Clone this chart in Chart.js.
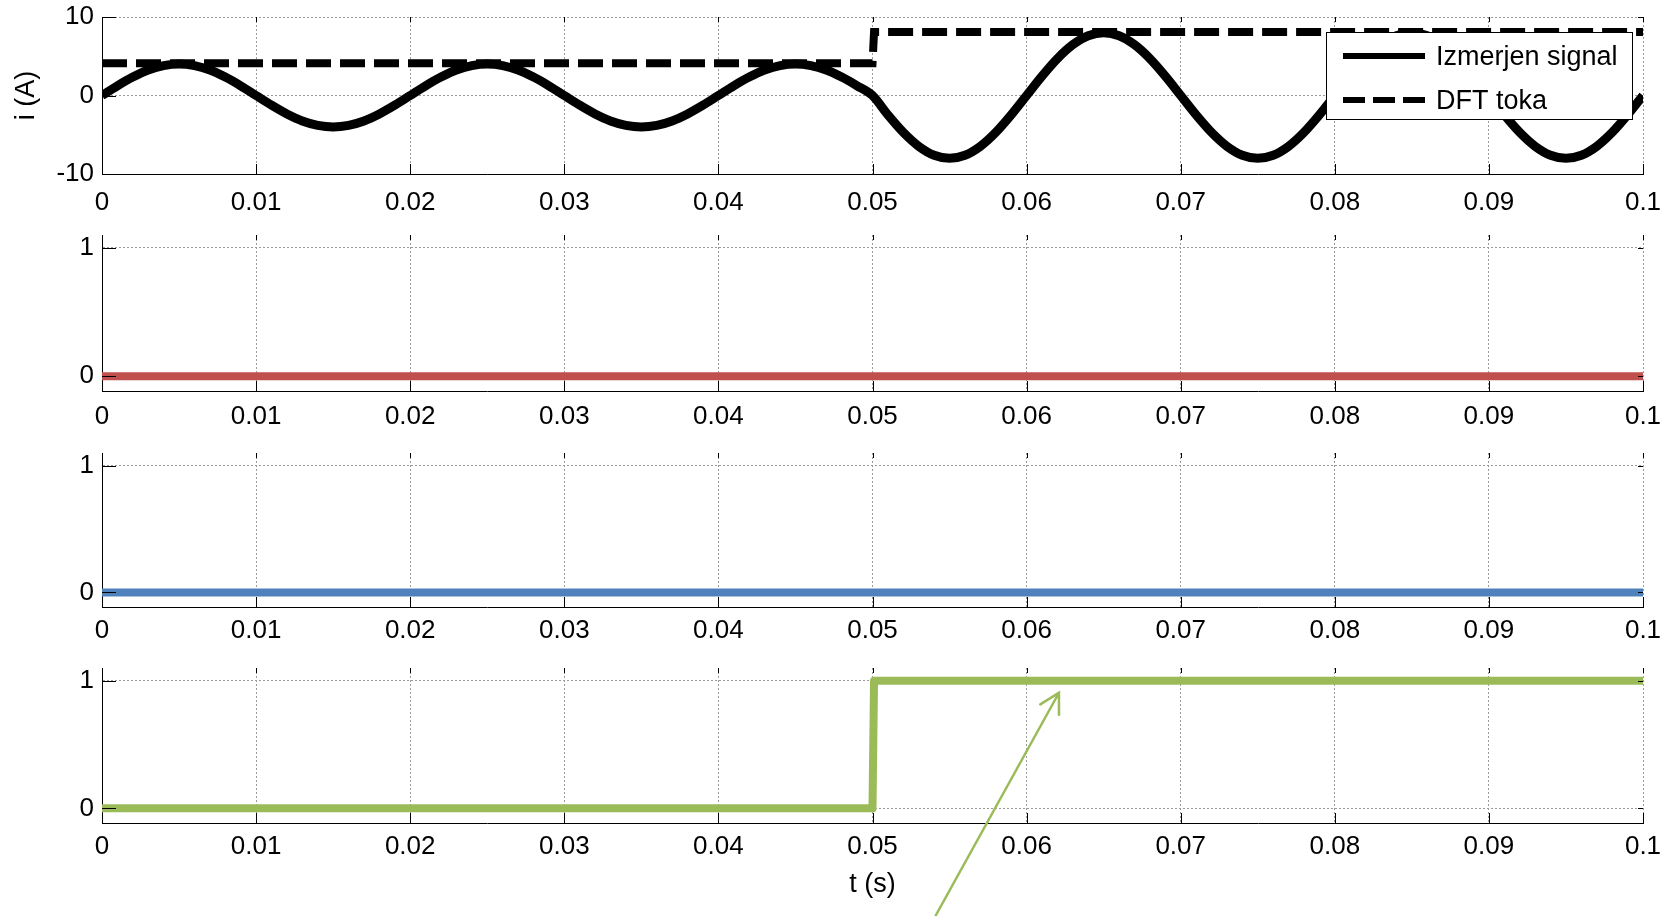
<!DOCTYPE html>
<html>
<head>
<meta charset="utf-8">
<script src="https://cdn.jsdelivr.net/npm/chart.js@4.4.1/dist/chart.umd.min.js"></script>
<style>
  html, body { margin: 0; padding: 0; background: #fff; }
  body { width: 1672px; height: 916px; position: relative; overflow: hidden; }
  canvas { position: absolute; left: 0; }
</style>
</head>
<body>
<canvas id="c1" width="1672" height="225" style="top:0px"></canvas>
<canvas id="c2" width="1672" height="215" style="top:225px"></canvas>
<canvas id="c3" width="1672" height="215" style="top:440px"></canvas>
<canvas id="c4" width="1672" height="261" style="top:655px"></canvas>
<script>
// ---------------- DATA ----------------
const xTicks = [0, 0.01, 0.02, 0.03, 0.04, 0.05, 0.06, 0.07, 0.08, 0.09, 0.1];
const yTicksCurrent = [-10, 0, 10];
const yTicksFlag = [0, 1];

const tSignal = [
  0, 0.001, 0.002, 0.003, 0.004, 0.005, 0.006, 0.007, 0.008, 0.009,
  0.010, 0.011, 0.012, 0.013, 0.014, 0.015, 0.016, 0.017, 0.018, 0.019,
  0.020, 0.021, 0.022, 0.023, 0.024, 0.025, 0.026, 0.027, 0.028, 0.029,
  0.030, 0.031, 0.032, 0.033, 0.034, 0.035, 0.036, 0.037, 0.038, 0.039,
  0.040, 0.041, 0.042, 0.043, 0.044, 0.045, 0.046, 0.047, 0.048, 0.049,
  0.050, 0.051, 0.052, 0.053, 0.054, 0.055, 0.056, 0.057, 0.058, 0.059,
  0.060, 0.061, 0.062, 0.063, 0.064, 0.065, 0.066, 0.067, 0.068, 0.069,
  0.070, 0.071, 0.072, 0.073, 0.074, 0.075, 0.076, 0.077, 0.078, 0.079,
  0.080, 0.081, 0.082, 0.083, 0.084, 0.085, 0.086, 0.087, 0.088, 0.089,
  0.090, 0.091, 0.092, 0.093, 0.094, 0.095, 0.096, 0.097, 0.098, 0.099,
  0.100
];
const measuredSignal = [
  0, 1.24, 2.35, 3.24, 3.8, 4, 3.8, 3.24, 2.35, 1.24,
  0, -1.24, -2.35, -3.24, -3.8, -4, -3.8, -3.24, -2.35, -1.24,
  0, 1.24, 2.35, 3.24, 3.8, 4, 3.8, 3.24, 2.35, 1.24,
  0, -1.24, -2.35, -3.24, -3.8, -4, -3.8, -3.24, -2.35, -1.24,
  0, 1.24, 2.35, 3.24, 3.8, 4, 3.8, 3.24, 2.35, 1.24,
  0, -2.47, -4.7, -6.47, -7.61, -8, -7.61, -6.47, -4.7, -2.47,
  0, 2.47, 4.7, 6.47, 7.61, 8, 7.61, 6.47, 4.7, 2.47,
  0, -2.47, -4.7, -6.47, -7.61, -8, -7.61, -6.47, -4.7, -2.47,
  0, 2.47, 4.7, 6.47, 7.61, 8, 7.61, 6.47, 4.7, 2.47,
  0, -2.47, -4.7, -6.47, -7.61, -8, -7.61, -6.47, -4.7, -2.47,
  0
];

const tDft = [0, 0.05, 0.0501, 0.1];
const dftAmplitude = [4.1, 4.1, 8.1, 8.1];

const tFlags = [0, 0.05, 0.0501, 0.1];
const flagRed = [0, 0, 0, 0];
const flagBlue = [0, 0, 0, 0];
const flagGreen = [0, 0, 1, 1];

const seriesNames = ['Izmerjen signal', 'DFT toka'];
// arrow annotation (data coordinates of bottom panel): tail -> tip
const arrowTail = { x: 0.0541, y: -0.84 };
const arrowTip = { x: 0.0621, y: 0.906 };

// ---------------- HELPERS ----------------
const FONT = "'Liberation Sans', Arial, Helvetica, sans-serif";
const toPts = (xs, ys) => xs.map((x, i) => ({ x: x, y: ys[i] }));
const fmtX = v => { const r = Math.round(v * 100) / 100; return String(r); };

// inward MATLAB-style ticks
const inwardTicks = {
  id: 'inwardTicks',
  afterDatasetsDraw(chart) {
    const { ctx, chartArea: a, scales } = chart;
    ctx.save();
    ctx.strokeStyle = '#000';
    ctx.lineWidth = 1;
    ctx.beginPath();
    scales.x.ticks.forEach(t => {
      const px = Math.round(scales.x.getPixelForValue(t.value)) + 0.5;
      ctx.moveTo(px, a.bottom); ctx.lineTo(px, a.bottom - 10);
      ctx.moveTo(px, a.top); ctx.lineTo(px, a.top + 5);
    });
    scales.y.ticks.forEach(t => {
      const py = Math.round(scales.y.getPixelForValue(t.value)) + 0.5;
      ctx.moveTo(a.left, py); ctx.lineTo(a.left + 14, py);
      ctx.moveTo(a.right, py); ctx.lineTo(a.right - 5, py);
    });
    ctx.stroke();
    ctx.restore();
  }
};

// boxed legend inside the top panel
const boxLegend = {
  id: 'boxLegend',
  afterDraw(chart, args, opts) {
    if (!opts.enabled) return;
    const { ctx, chartArea: a } = chart;
    const w = 306, h = 87;
    const x0 = a.right - 11 - w, y0 = a.top + 15;
    ctx.save();
    ctx.fillStyle = '#fff';
    ctx.fillRect(x0, y0, w, h);
    ctx.strokeStyle = '#000';
    ctx.lineWidth = 1;
    ctx.strokeRect(x0 + 0.5, y0 + 0.5, w, h);
    ctx.font = '27px ' + FONT;
    ctx.fillStyle = '#000';
    ctx.textBaseline = 'middle';
    chart.data.datasets.forEach((ds, i) => {
      const cy = y0 + 24 + i * 44;
      ctx.beginPath();
      ctx.lineWidth = 6;
      ctx.strokeStyle = ds.borderColor;
      ctx.setLineDash(ds.borderDash && ds.borderDash.length ? [22, 8] : []);
      ctx.moveTo(x0 + 17, cy); ctx.lineTo(x0 + 99, cy);
      ctx.stroke();
      ctx.setLineDash([]);
      ctx.fillText(ds.label, x0 + 110, cy + 2);
    });
    ctx.restore();
  }
};

// annotation arrow in the bottom panel
const arrowPlugin = {
  id: 'arrowPlugin',
  afterDraw(chart, args, opts) {
    if (!opts.enabled) return;
    const { ctx, scales } = chart;
    const x1 = scales.x.getPixelForValue(arrowTail.x), y1 = scales.y.getPixelForValue(arrowTail.y);
    const x2 = scales.x.getPixelForValue(arrowTip.x), y2 = scales.y.getPixelForValue(arrowTip.y);
    const ang = Math.atan2(y1 - y2, x1 - x2);
    const L = 22, spread = 29 * Math.PI / 180;
    ctx.save();
    ctx.strokeStyle = '#9BBB59';
    ctx.lineWidth = 2.5;
    ctx.lineCap = 'round';
    ctx.beginPath();
    ctx.moveTo(x1, y1); ctx.lineTo(x2, y2);
    ctx.moveTo(x2 + L * Math.cos(ang - spread), y2 + L * Math.sin(ang - spread));
    ctx.lineTo(x2, y2);
    ctx.lineTo(x2 + L * Math.cos(ang + spread), y2 + L * Math.sin(ang + spread));
    ctx.stroke();
    ctx.restore();
  }
};

function makeChart(id, cfg) {
  const xScale = {
    type: 'linear', min: 0, max: 0.1,
    afterBuildTicks: s => { s.ticks = xTicks.map(v => ({ value: v })); },
    afterFit: s => { s.height = cfg.xHeight; s.paddingLeft = 0; s.paddingRight = 0; s.paddingTop = 0; s.paddingBottom = 0; },
    ticks: { autoSkip: false, maxRotation: 0, padding: cfg.xPad, color: '#000',
             font: { family: FONT, size: 26 }, callback: v => fmtX(v) },
    grid: { color: '#9a9a9a', lineWidth: 1, drawTicks: false },
    border: { display: true, color: '#000', width: 1, dash: [2, 2] },
    title: cfg.xTitle ? { display: true, text: cfg.xTitle, color: '#000',
             font: { family: FONT, size: 27 }, padding: { top: 0, bottom: 15 } } : { display: false }
  };
  const yScale = {
    type: 'linear', min: cfg.yMin, max: cfg.yMax,
    afterBuildTicks: s => { s.ticks = cfg.yTicks.map(v => ({ value: v })); },
    afterFit: s => { s.width = 102; s.paddingTop = 0; s.paddingBottom = 0; s.paddingLeft = 0; s.paddingRight = 0; },
    ticks: { padding: 8, color: '#000', font: { family: FONT, size: 26 }, callback: v => String(v) },
    grid: { color: '#9a9a9a', lineWidth: 1, drawTicks: false },
    border: { display: true, color: '#000', width: 1, dash: [2, 2] },
    title: cfg.yTitle ? { display: true, text: cfg.yTitle, color: '#000',
             font: { family: FONT, size: 27 }, padding: { top: 10, bottom: 0 } } : { display: false }
  };
  return new Chart(document.getElementById(id), {
    type: 'line',
    data: { datasets: cfg.datasets },
    options: {
      responsive: false, animation: false, devicePixelRatio: 1,
      layout: { padding: { top: cfg.padTop, right: 29, left: 0, bottom: 0 } },
      elements: { point: { radius: 0, hoverRadius: 0 } },
      plugins: { legend: { display: false }, tooltip: { enabled: false },
                 boxLegend: { enabled: !!cfg.legend }, arrowPlugin: { enabled: !!cfg.arrow } },
      scales: { x: xScale, y: yScale }
    },
    plugins: [inwardTicks, boxLegend, arrowPlugin]
  });
}

makeChart('c1', {
  padTop: 17, xHeight: 51, xPad: 13, yMin: -10, yMax: 10, yTicks: yTicksCurrent, yTitle: 'i (A)', legend: true,
  datasets: [
    { label: seriesNames[0], data: toPts(tSignal, measuredSignal), borderColor: '#000', borderWidth: 9,
      cubicInterpolationMode: 'monotone', borderJoinStyle: 'round', fill: false },
    { label: seriesNames[1], data: toPts(tDft, dftAmplitude), borderColor: '#000', borderWidth: 8,
      borderDash: [25, 9], fill: false }
  ]
});
makeChart('c2', {
  padTop: 10, xHeight: 49, xPad: 10, yMin: -0.115, yMax: 1.1, yTicks: yTicksFlag,
  datasets: [{ label: 'flag1', data: toPts(tFlags, flagRed), borderColor: '#C0504D', borderWidth: 8, fill: false }]
});
makeChart('c3', {
  padTop: 13, xHeight: 48, xPad: 8, yMin: -0.115, yMax: 1.1, yTicks: yTicksFlag,
  datasets: [{ label: 'flag2', data: toPts(tFlags, flagBlue), borderColor: '#4F81BD', borderWidth: 8, fill: false }]
});
makeChart('c4', {
  padTop: 13, xHeight: 93, xPad: 8, yMin: -0.115, yMax: 1.1, yTicks: yTicksFlag, xTitle: 't (s)', arrow: true,
  datasets: [{ label: 'flag3', data: toPts(tFlags, flagGreen), borderColor: '#9BBB59', borderWidth: 8,
               borderJoinStyle: 'round', fill: false }]
});
</script>
</body>
</html>
